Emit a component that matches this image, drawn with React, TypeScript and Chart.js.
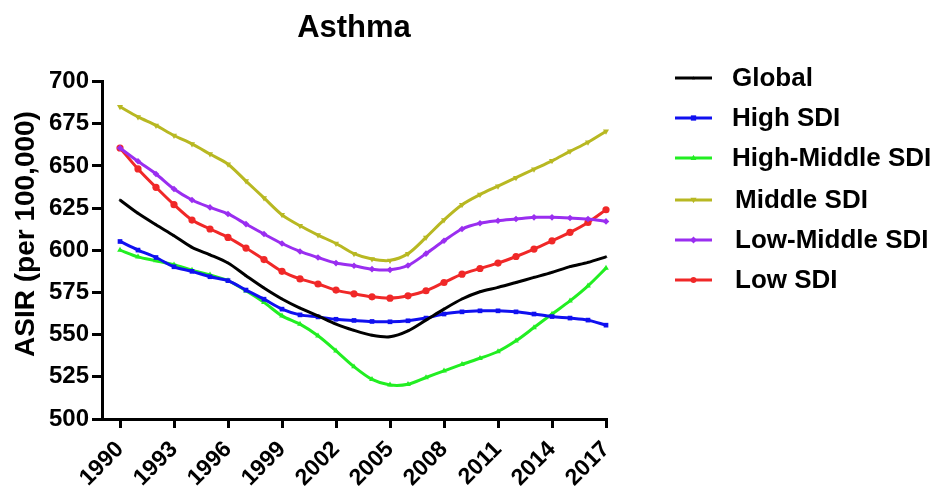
import React, { useEffect, useRef } from "react";
import { Chart, registerables } from "chart.js";

Chart.register(...registerables);

const TITLE = "Asthma";
const Y_TITLE = "ASIR (per 100,000)";

const years = [
  1990, 1991, 1992, 1993, 1994, 1995, 1996, 1997, 1998, 1999, 2000, 2001, 2002, 2003,
  2004, 2005, 2006, 2007, 2008, 2009, 2010, 2011, 2012, 2013, 2014, 2015, 2016, 2017,
];
const xTickYears = [1990, 1993, 1996, 1999, 2002, 2005, 2008, 2011, 2014, 2017];

const globalVals = [
  629.8, 621.9, 615.1, 608.6, 601.7, 597.3, 592.4, 584.9, 577.6, 571.1, 565.7, 561.1, 556.2, 552.5,
  549.6, 548.7, 552.2, 558.6, 565.1, 571.1, 575.4, 578.0, 580.9, 583.9, 586.9, 590.3, 592.8, 596.1,
];
const highSdi = [
  605.2, 600.1, 595.7, 590.2, 587.5, 584.3, 582.0, 576.4, 571.0, 565.1, 561.7, 560.5, 559.1, 558.4,
  557.8, 557.6, 558.2, 559.8, 562.2, 563.5, 564.1, 564.1, 563.5, 562.2, 560.7, 559.8, 558.6, 555.6,
];
const highMiddleSdi = [
  600.1, 596.1, 593.8, 591.4, 588.2, 585.4, 582.0, 576.0, 569.1, 561.1, 556.2, 549.3, 540.4, 531.0,
  523.5, 520.2, 520.6, 524.6, 528.5, 532.4, 536.0, 540.0, 546.3, 554.2, 562.2, 570.0, 578.9, 589.4,
];
const middleSdi = [
  685.0, 679.0, 674.0, 668.0, 663.0, 657.0, 651.0, 641.0, 631.0, 621.0, 614.5, 609.0, 604.0, 598.0,
  594.8, 594.0, 598.0, 607.6, 618.0, 627.0, 633.0, 638.0, 643.0, 648.0, 653.0, 658.6, 664.0, 670.5,
];
const lowMiddleSdi = [
  660.6, 652.7, 645.2, 636.3, 629.8, 625.4, 621.5, 615.5, 609.6, 604.0, 599.3, 595.7, 592.4, 590.8,
  588.8, 588.4, 591.0, 598.0, 605.6, 612.6, 616.0, 617.5, 618.5, 619.5, 619.5, 619.1, 618.5, 617.1,
];
const lowSdi = [
  660.6, 648.2, 637.3, 627.0, 617.9, 612.6, 607.6, 601.3, 594.5, 587.5, 583.0, 580.0, 576.4, 574.2,
  572.4, 571.6, 573.0, 576.0, 580.9, 585.8, 589.2, 592.4, 596.3, 600.7, 605.6, 610.6, 616.5, 624.0,
];

const seriesNames = ["Global", "High SDI", "High-Middle SDI", "Middle SDI", "Low-Middle SDI", "Low SDI"];
const seriesValues = [globalVals, highSdi, highMiddleSdi, middleSdi, lowMiddleSdi, lowSdi];
const seriesColors = ["#000000", "#1010f0", "#22ee22", "#b8b822", "#9a2ef0", "#f02828"];
const seriesMarkers = ["triangle", "rect", "triangle", "triangle", "rectRot", "circle"];
const seriesMarkerRot = [0, 0, 0, 180, 0, 0];
const seriesMarkerSize = [1.8, 3.3, 3.3, 3.5, 3.3, 3.6];

const FONT = '"Liberation Sans", Arial, sans-serif';

function drawMarker(ctx: CanvasRenderingContext2D, style: string, x: number, y: number, r: number, rot: number, color: string) {
  ctx.save();
  ctx.fillStyle = color;
  ctx.translate(x, y);
  ctx.rotate((rot * Math.PI) / 180);
  ctx.beginPath();
  if (style === "circle") {
    ctx.arc(0, 0, r, 0, Math.PI * 2);
  } else if (style === "rect") {
    ctx.rect(-r, -r, 2 * r, 2 * r);
  } else if (style === "rectRot") {
    ctx.moveTo(0, -r * 1.3);
    ctx.lineTo(r * 1.3, 0);
    ctx.lineTo(0, r * 1.3);
    ctx.lineTo(-r * 1.3, 0);
    ctx.closePath();
  } else {
    ctx.moveTo(0, -r * 1.2);
    ctx.lineTo(r * 1.1, r * 0.8);
    ctx.lineTo(-r * 1.1, r * 0.8);
    ctx.closePath();
  }
  ctx.fill();
  ctx.restore();
}

const legendRowsY = [78, 118, 158, 200, 240, 280];

const overlayPlugin = {
  id: "overlay",
  afterDraw(chart: any) {
    const ctx: CanvasRenderingContext2D = chart.ctx;
    const area = chart.chartArea;
    ctx.save();
    ctx.fillStyle = "#000";
    ctx.font = `bold 31px ${FONT}`;
    ctx.textAlign = "center";
    ctx.textBaseline = "alphabetic";
    ctx.fillText(TITLE, (area.left + area.right) / 2, 37);

    // y-axis title
    ctx.save();
    ctx.translate(26, 234);
    ctx.rotate(-Math.PI / 2);
    ctx.font = `bold 28px ${FONT}`;
    ctx.textAlign = "center";
    ctx.textBaseline = "middle";
    ctx.fillText(Y_TITLE, 0, 0);
    ctx.restore();

    ctx.font = `bold 26px ${FONT}`;
    ctx.textAlign = "left";
    ctx.textBaseline = "middle";
    seriesNames.forEach((name, i) => {
      const y = legendRowsY[i];
      ctx.strokeStyle = seriesColors[i];
      ctx.lineWidth = 3;
      ctx.beginPath();
      ctx.moveTo(675, y);
      ctx.lineTo(712, y);
      ctx.stroke();
      drawMarker(ctx, seriesMarkers[i], 693.5, y, seriesMarkerSize[i] * 0.8, seriesMarkerRot[i], seriesColors[i]);
      ctx.fillStyle = "#000";
      ctx.fillText(name, 732 + (i >= 3 ? 3 : 0), y + 1);
    });
    ctx.restore();
  },
};

export default function App() {
  const canvasRef = useRef<HTMLCanvasElement | null>(null);

  useEffect(() => {
    const canvas = canvasRef.current;
    if (!canvas) return;
    const datasets = seriesNames.map((name, i) => ({
      label: name,
      data: years.map((yr, j) => ({ x: yr, y: seriesValues[i][j] })),
      borderColor: seriesColors[i],
      backgroundColor: seriesColors[i],
      borderWidth: 3,
      tension: 0.3,
      pointStyle: seriesMarkers[i] as any,
      pointRotation: seriesMarkerRot[i],
      pointRadius: seriesMarkerSize[i],
      pointBorderWidth: 0,
      pointBackgroundColor: seriesColors[i],
      fill: false,
      clip: false as any,
    }));

    const chart = new Chart(canvas, {
      type: "line",
      data: { datasets },
      options: {
        animation: false,
        responsive: true,
        maintainAspectRatio: false,
        layout: { padding: { top: 81.5, right: 337, left: 0, bottom: 0 } },
        plugins: {
          legend: { display: false },
          title: { display: false },
          tooltip: { enabled: false },
        },
        scales: {
          x: {
            type: "linear",
            min: 1989,
            max: 2017,
            afterBuildTicks: (scale: any) => {
              scale.ticks = xTickYears.map((v) => ({ value: v }));
            },
            afterFit: (scale: any) => {
              scale.height = 70;
            },
            border: { display: true, color: "#000", width: 3 },
            grid: { drawOnChartArea: false, drawTicks: true, tickLength: 9, color: "#000", lineWidth: 3 },
            ticks: {
              autoSkip: false,
              maxRotation: 45,
              minRotation: 45,
              color: "#000",
              padding: 8,
              font: { family: FONT, size: 23, weight: "bold" },
              callback: (v: any) => String(v),
            },
          },
          y: {
            type: "linear",
            min: 500,
            max: 700,
            afterFit: (scale: any) => {
              scale.width = 102;
            },
            border: { display: true, color: "#000", width: 3 },
            grid: { drawOnChartArea: false, drawTicks: true, tickLength: 10, color: "#000", lineWidth: 3 },
            ticks: {
              stepSize: 25,
              color: "#000",
              padding: 3,
              font: { family: FONT, size: 24, weight: "bold" },
            },
          },
        },
      },
      plugins: [overlayPlugin],
    });
    return () => chart.destroy();
  }, []);

  return (
    <div style={{ position: "fixed", left: 0, top: 0, width: 943, height: 489, background: "#fff" }}>
      <canvas ref={canvasRef} />
    </div>
  );
}
